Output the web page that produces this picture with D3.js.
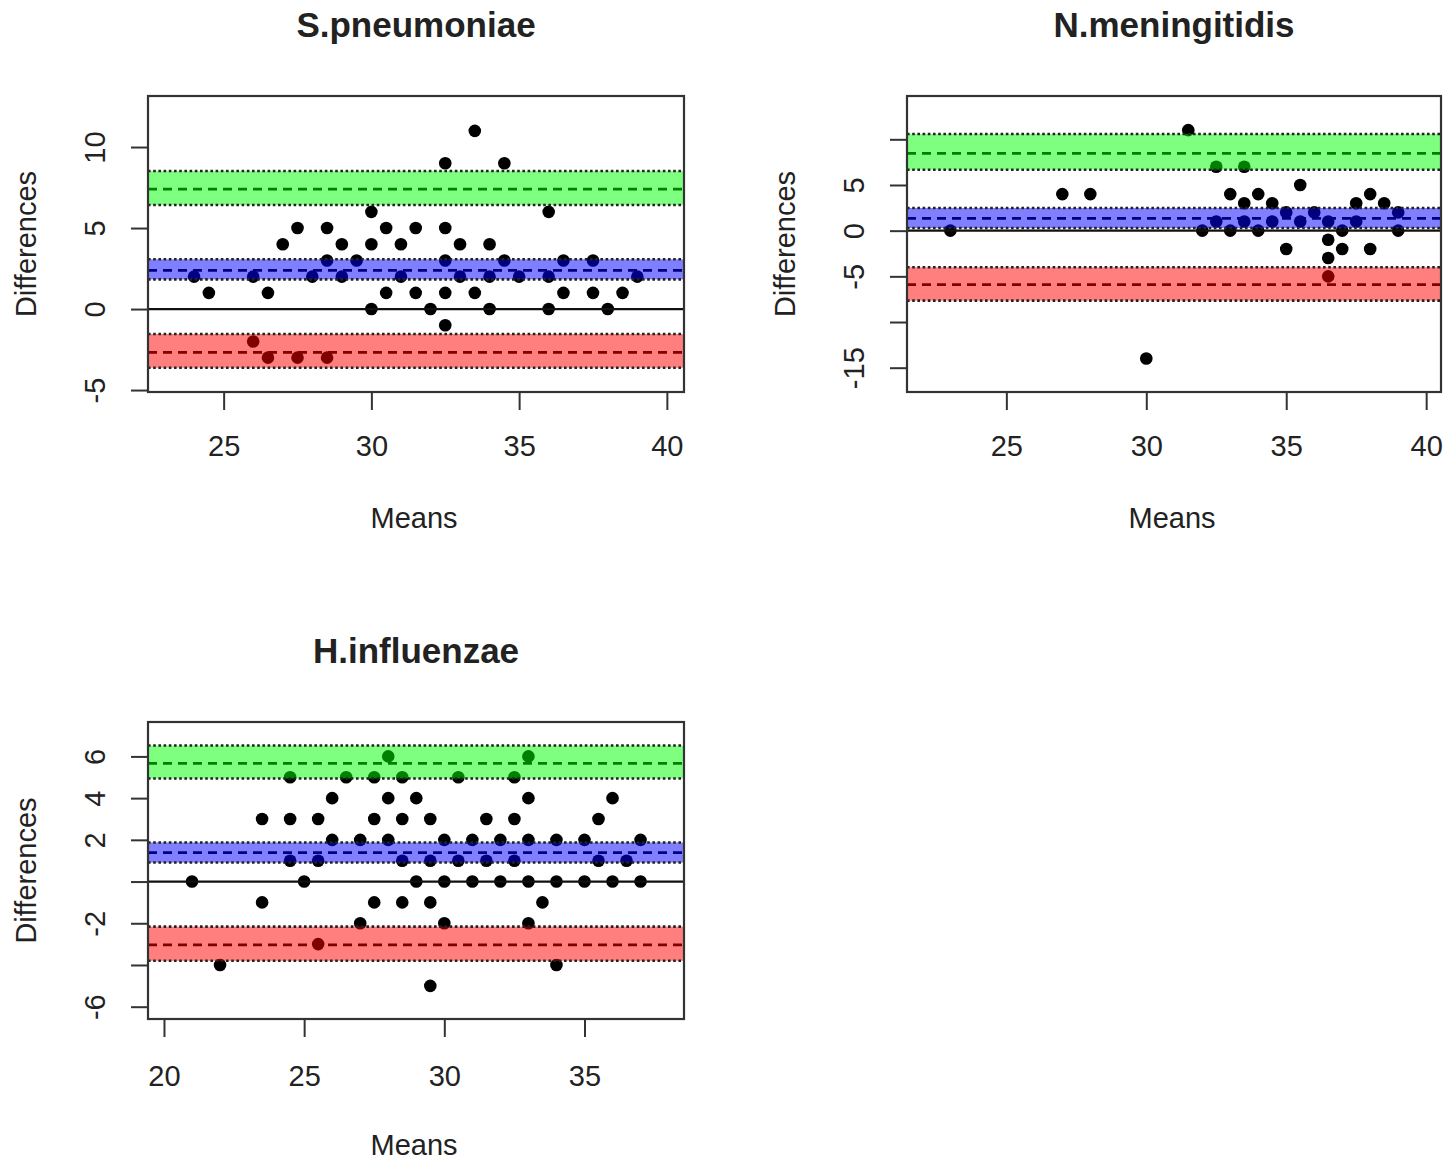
<!DOCTYPE html>
<html lang="en">
<head>
<meta charset="UTF-8">
<script src="https://d3js.org/d3.v7.min.js"></script>
<title>Bland-Altman plots</title>
<style>
  body { margin: 0; background: #fff; }
  text { font-family: "Liberation Sans", Arial, sans-serif; fill: #222; }
</style>
</head>
<body>
<div id="chart"></div>
<script>
// ---- data ----
const titles = ["S.pneumoniae", "N.meningitidis", "H.influenzae"];

// S.pneumoniae
const spMeans = [24, 24.5, 26, 26.5, 27, 27.5, 28, 28.5, 28.5, 29, 29, 29.5, 30, 30, 30, 30.5, 30.5, 31, 31, 31.5, 31.5,
  32, 32.5, 32.5, 32.5, 32.5, 32.5, 33, 33, 33.5, 33.5, 34, 34, 34, 34.5, 34.5, 35, 36, 36, 36, 36.5, 36.5,
  37.5, 37.5, 38, 38.5, 39, 26, 26.5, 27.5, 28.5];
const spDiffs = [2, 1, 2, 1, 4, 5, 2, 5, 3, 4, 2, 3, 6, 4, 0, 5, 1, 4, 2, 5, 1,
  0, 9, 5, 3, 1, -1, 4, 2, 11, 1, 4, 2, 0, 9, 3, 2, 6, 2, 0, 3, 1,
  3, 1, 0, 1, 2, -2, -3, -3, -3];
const spBias = [1.83, 2.39, 3.07];
const spUpper = [6.42, 7.40, 8.52];
const spLower = [-3.62, -2.67, -1.54];

// N.meningitidis
const nmMeans = [23, 27, 28, 30, 31.5, 32.5, 33.5, 32, 33, 33, 33.5, 32.5, 33.5, 34, 34, 34.5, 34.5,
  35, 35, 35.5, 35.5, 36, 36.5, 36.5, 36.5, 36.5, 37, 37, 37.5, 37.5, 38, 38, 38.5, 39, 39];
const nmDiffs = [0, 4, 4, -14, 11, 7, 7, 0, 4, 0, 3, 1, 1, 4, 0, 3, 1,
  2, -2, 5, 1, 2, 1, -1, -3, -5, 0, -2, 3, 1, 4, -2, 3, 2, 0];
const nmBias = [0.29, 1.35, 2.48];
const nmUpper = [6.67, 8.46, 10.58];
const nmLower = [-7.66, -5.91, -4.01];

// H.influenzae
const hiMeans = [21, 22, 23.5, 23.5, 24.5, 24.5, 24.5, 25, 25.5, 25.5, 25.5, 26, 26, 26.5, 27, 27,
  27.5, 27.5, 27.5, 28, 28, 28, 28.5, 28.5, 28.5, 28.5, 29, 29, 29.5, 29.5, 29.5, 29.5,
  30, 30, 30, 30.5, 30.5, 31, 31, 31.5, 31.5, 32, 32, 32.5, 32.5, 32.5,
  33, 33, 33, 33, 33, 33.5, 34, 34, 34, 35, 35, 35.5, 35.5, 36, 36, 36.5, 37, 37];
const hiDiffs = [0, -4, 3, -1, 5, 3, 1, 0, 3, 1, -3, 4, 2, 5, 2, -2,
  5, 3, -1, 6, 4, 2, 5, 3, 1, -1, 4, 0, 3, 1, -1, -5,
  2, 0, -2, 5, 1, 2, 0, 3, 1, 2, 0, 5, 3, 1,
  6, 4, 2, 0, -2, -1, 2, 0, -4, 2, 0, 3, 1, 4, 0, 1, 2, 0];
const hiBias = [0.91, 1.39, 1.875];
const hiUpper = [4.94, 5.67, 6.52];
const hiLower = [-3.80, -3.04, -2.16];

// axis ticks
const spXTicks = [25, 30, 35, 40];
const spYTicks = [-5, 0, 5, 10];
const spYLabels = ["-5", "0", "5", "10"];
const nmXTicks = [25, 30, 35, 40];
const nmYTicks = [-15, -10, -5, 0, 5, 10];
const nmYLabels = ["-15", "", "-5", "0", "5", ""];
const hiXTicks = [20, 25, 30, 35];
const hiYTicks = [-6, -4, -2, 0, 2, 4, 6];
const hiYLabels = ["-6", "", "-2", "", "2", "4", "6"];

// ---- panels ----
const panels = [
  {title: titles[0], means: spMeans, diffs: spDiffs, bias: spBias, upper: spUpper, lower: spLower,
   xTicks: spXTicks, yTicks: spYTicks, yLabels: spYLabels,
   xDom: [22.44, 40.58], yDom: [-5.12, 13.15], box: {x0: 148, x1: 684, y0: 96, y1: 392}, lab: 0},
  {title: titles[1], means: nmMeans, diffs: nmDiffs, bias: nmBias, upper: nmUpper, lower: nmLower,
   xTicks: nmXTicks, yTicks: nmYTicks, yLabels: nmYLabels,
   xDom: [21.45, 40.53], yDom: [-17.66, 14.74], box: {x0: 907, x1: 1441, y0: 96, y1: 392}, lab: 0},
  {title: titles[2], means: hiMeans, diffs: hiDiffs, bias: hiBias, upper: hiUpper, lower: hiLower,
   xTicks: hiXTicks, yTicks: hiYTicks, yLabels: hiYLabels,
   xDom: [19.43, 38.55], yDom: [-6.59, 7.65], box: {x0: 148, x1: 684, y0: 722, y1: 1019}, lab: 3}
];

const svg = d3.select("#chart").append("svg")
  .attr("width", 1455)
  .attr("height", 1162);

panels.forEach(function(p) {
  const b = p.box;
  const x = d3.scaleLinear().domain(p.xDom).range([b.x0, b.x1]);
  const y = d3.scaleLinear().domain(p.yDom).range([b.y1, b.y0]);
  const g = svg.append("g");

  //points
  g.selectAll("circle").data(d3.zip(p.means, p.diffs)).enter()
    .append("circle")
    .attr("cx", function(d) { return x(d[0]); })
    .attr("cy", function(d) { return y(d[1]); })
    .attr("r", 6.3)
    .style("fill", "#000");

  //bands: dashed center under translucent fill, dotted edges on top
  const bands = [[p.upper, "rgba(0,255,0,0.5)"], [p.bias, "rgba(0,0,255,0.5)"], [p.lower, "rgba(255,0,0,0.5)"]];
  bands.forEach(function(bd) {
    const v = bd[0];
    g.append("line")
      .attr("x1", b.x0).attr("x2", b.x1)
      .attr("y1", y(v[1])).attr("y2", y(v[1]))
      .attr("stroke", "#000").attr("stroke-width", 2.8)
      .attr("stroke-dasharray", "9,6");
    g.append("rect")
      .attr("x", b.x0).attr("width", b.x1 - b.x0)
      .attr("y", y(v[2])).attr("height", y(v[0]) - y(v[2]))
      .style("fill", bd[1]);
    [v[0], v[2]].forEach(function(e) {
      g.append("line")
        .attr("x1", b.x0).attr("x2", b.x1)
        .attr("y1", y(e)).attr("y2", y(e))
        .attr("stroke", "#222").attr("stroke-width", 2.6)
        .attr("stroke-dasharray", "2.6,2.6");
    });
  });

  //zero line
  g.append("line")
    .attr("x1", b.x0).attr("x2", b.x1)
    .attr("y1", y(0)).attr("y2", y(0))
    .attr("stroke", "#111").attr("stroke-width", 2.2);

  //box
  g.append("rect")
    .attr("x", b.x0).attr("y", b.y0)
    .attr("width", b.x1 - b.x0).attr("height", b.y1 - b.y0)
    .style("fill", "none").style("stroke", "#333").style("stroke-width", 2.2);

  //X axis
  const xa = g.append("g").attr("transform", "translate(0," + b.y1 + ")")
    .call(d3.axisBottom(x).tickValues(p.xTicks).tickSize(18).tickPadding(0));
  xa.select(".domain").remove();
  xa.selectAll(".tick line").attr("stroke", "#333").attr("stroke-width", 2);
  xa.selectAll(".tick text")
    .attr("y", 64 + p.lab).attr("dy", 0)
    .style("font-size", "29px").style("fill", "#222");

  //Y axis
  const ya = g.append("g").attr("transform", "translate(" + b.x0 + ",0)")
    .call(d3.axisLeft(y).tickValues(p.yTicks).tickSize(17)
      .tickFormat(function(d, i) { return p.yLabels[i]; }));
  ya.select(".domain").remove();
  ya.selectAll(".tick line").attr("stroke", "#333").attr("stroke-width", 2);
  ya.selectAll(".tick text")
    .attr("x", 0).attr("dy", 0)
    .attr("transform", "translate(-43,0) rotate(-90)")
    .attr("text-anchor", "middle")
    .style("font-size", "29px").style("fill", "#222");

  //titles and labels
  const cx = (b.x0 + b.x1) / 2, cy = (b.y0 + b.y1) / 2;
  g.append("text")
    .attr("x", cx).attr("y", b.y0 - 59)
    .attr("text-anchor", "middle")
    .style("font-size", "35px").style("font-weight", "bold")
    .text(p.title);
  g.append("text")
    .attr("x", cx - 2).attr("y", b.y1 + 136)
    .attr("text-anchor", "middle")
    .style("font-size", "29px")
    .text("Means");
  g.append("text")
    .attr("transform", "translate(" + (b.x0 - 112) + "," + cy + ") rotate(-90)")
    .attr("text-anchor", "middle")
    .style("font-size", "29px")
    .text("Differences");
});
</script>
</body>
</html>
